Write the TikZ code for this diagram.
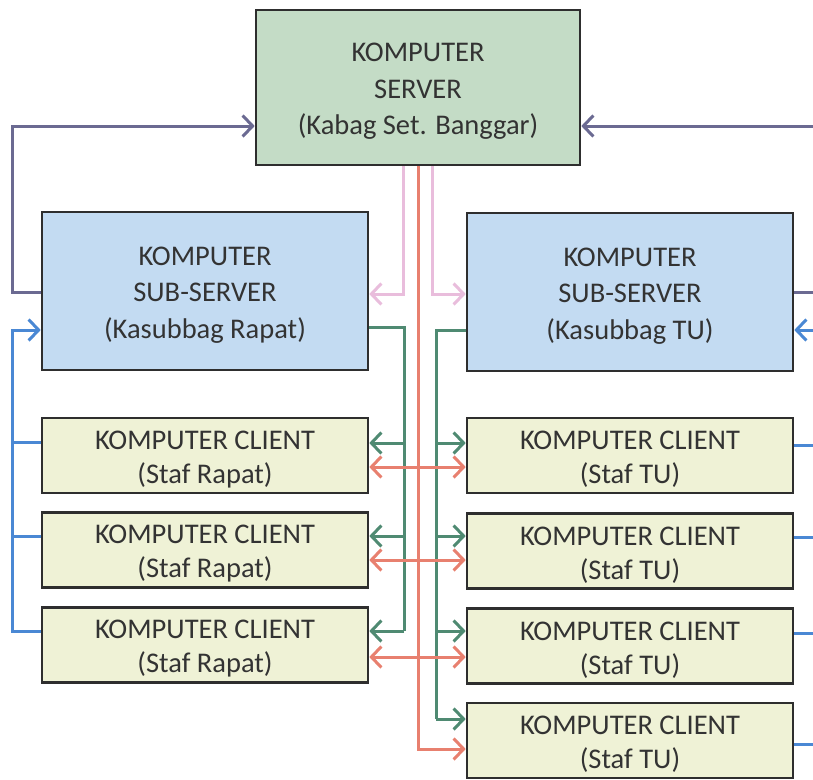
\documentclass[tikz,border=0pt]{standalone}
\usepackage{fontspec}
\setmainfont{Carlito}
\usetikzlibrary{arrows.meta}

\definecolor{srvfill}{HTML}{C4DCC6}
\definecolor{subfill}{HTML}{C3DBF2}
\definecolor{clifill}{HTML}{EFF2D6}
\definecolor{edgecol}{HTML}{2E2E2E}
\definecolor{txtcol}{HTML}{333333}
\definecolor{purcol}{HTML}{6B6A92}
\definecolor{pinkcol}{HTML}{E9BDDC}
\definecolor{redcol}{HTML}{E8806F}
\definecolor{grncol}{HTML}{4F8A72}
\definecolor{blucol}{HTML}{4A88D4}

\tikzset{
  unitbox/.style={draw=edgecol, line width=2.6pt, inner sep=0pt},
  bigtext/.style={align=center, inner sep=0pt, text=txtcol, yshift=-4pt,
    font=\fontsize{28.5}{36.5}\selectfont},
  smalltext/.style={bigtext, font=\fontsize{28.5}{34}\selectfont},
  srvbox/.style={unitbox, fill=srvfill, minimum width=324pt, minimum height=155pt},
  subbox/.style={unitbox, fill=subfill, minimum width=326pt, minimum height=158pt},
  clibox/.style={unitbox, fill=clifill, minimum width=326pt, minimum height=75pt},
  link/.style={line width=3pt},
  tip/.style={-{Straight Barb[length=10pt,width=21pt]}},
  twotip/.style={{Straight Barb[length=10pt,width=21pt]}-{Straight Barb[length=10pt,width=21pt]}},
  purline/.style={link, draw=purcol},
  pinkline/.style={link, draw=pinkcol},
  redline/.style={link, draw=redcol},
  grnline/.style={link, draw=grncol},
  bluline/.style={link, draw=blucol},
}

\begin{document}
\begin{tikzpicture}[x=1pt, y=-1pt]
\useasboundingbox (0,0) rectangle (813,779);
\fill[white] (0,0) rectangle (813,779);

% ---- units ----
\node[srvbox, label={[bigtext]center:{KOMPUTER\\SERVER\\(Kabag Set. Banggar)}}] (server) at (418,87.5) {};
\node[subbox, label={[bigtext]center:{KOMPUTER\\SUB-SERVER\\(Kasubbag Rapat)}}] (lsub) at (205,291) {};
\node[subbox, label={[bigtext]center:{KOMPUTER\\SUB-SERVER\\(Kasubbag TU)}}] (rsub) at (630,292) {};

\node[clibox, label={[smalltext]center:{KOMPUTER CLIENT\\(Staf Rapat)}}] (lc1) at (205,455.5) {};
\node[clibox, label={[smalltext]center:{KOMPUTER CLIENT\\(Staf Rapat)}}] (lc2) at (205,550) {};
\node[clibox, label={[smalltext]center:{KOMPUTER CLIENT\\(Staf Rapat)}}] (lc3) at (205,645) {};

\node[clibox, label={[smalltext]center:{KOMPUTER CLIENT\\(Staf TU)}}] (rc1) at (630,455.5) {};
\node[clibox, label={[smalltext]center:{KOMPUTER CLIENT\\(Staf TU)}}] (rc2) at (630,551) {};
\node[clibox, label={[smalltext]center:{KOMPUTER CLIENT\\(Staf TU)}}] (rc3) at (630,646) {};
\node[clibox, label={[smalltext]center:{KOMPUTER CLIENT\\(Staf TU)}}] (rc4) at (630,740.5) {};

% ---- bus columns ----
\coordinate (xL) at (12,0);
\coordinate (xR) at (824,0);
\coordinate (xPkL) at (403,0);
\coordinate (xRed) at (418,0);
\coordinate (xPkR) at (432,0);
\coordinate (xGL) at (404,0);
\coordinate (xGR) at (436,0);

% ---- levels ----
\coordinate (yTop) at (0,126);
\coordinate (yPur) at (0,292);
\coordinate (yPink) at (0,294);
\coordinate (yIn) at (0,330);
\coordinate (yGL) at (0,327);
\coordinate (yGR) at (0,330);
\coordinate (g1) at (0,443);
\coordinate (g2) at (0,536);
\coordinate (g3) at (0,631);
\coordinate (g4) at (0,719);
\coordinate (r1) at (0,467);
\coordinate (r2) at (0,560);
\coordinate (r3) at (0,657);
\coordinate (r4) at (0,749);
\coordinate (bl1) at (0,442);
\coordinate (bl2) at (0,536);
\coordinate (bl3) at (0,631);
\coordinate (br1) at (0,445);
\coordinate (br2) at (0,537);
\coordinate (br3) at (0,633);
\coordinate (br4) at (0,744);

% ---- sub-servers report to the server ----
\draw[purline,tip] (lsub.west |- yPur) -- (xL |- yPur) -- (xL |- yTop) -- (server.west |- yTop);
\draw[purline,tip] (rsub.east |- yPur) -- (xR |- yPur) -- (xR |- yTop) -- (server.east |- yTop);

% ---- server feeds the sub-servers ----
\draw[pinkline,tip] (server.south -| xPkL) -- (xPkL |- yPink) -- (lsub.east |- yPink);
\draw[pinkline,tip] (server.south -| xPkR) -- (xPkR |- yPink) -- (rsub.west |- yPink);

% ---- sub-servers feed their clients ----
\draw[grnline] (lsub.east |- yGL) -- (xGL |- yGL) -- (xGL |- g3);
\draw[grnline,tip] (xGL |- g1) -- (lc1.east |- g1);
\draw[grnline,tip] (xGL |- g2) -- (lc2.east |- g2);
\draw[grnline,tip] (xGL |- g3) -- (lc3.east |- g3);

\draw[grnline] (rsub.west |- yGR) -- (xGR |- yGR) -- (xGR |- g4);
\draw[grnline,tip] (xGR |- g1) -- (rc1.west |- g1);
\draw[grnline,tip] (xGR |- g2) -- (rc2.west |- g2);
\draw[grnline,tip] (xGR |- g3) -- (rc3.west |- g3);
\draw[grnline,tip] (xGR |- g4) -- (rc4.west |- g4);

% ---- server line and client exchange ----
\draw[redline,tip] (server.south -| xRed) -- (xRed |- r4) -- (rc4.west |- r4);
\draw[redline,twotip] (lc1.east |- r1) -- (rc1.west |- r1);
\draw[redline,twotip] (lc2.east |- r2) -- (rc2.west |- r2);
\draw[redline,twotip] (lc3.east |- r3) -- (rc3.west |- r3);

% ---- clients report to their sub-server ----
\draw[bluline,tip] (lc3.west |- bl3) -- (xL |- bl3) -- (xL |- yIn) -- (lsub.west |- yIn);
\draw[bluline] (lc1.west |- bl1) -- (xL |- bl1);
\draw[bluline] (lc2.west |- bl2) -- (xL |- bl2);

\draw[bluline,tip] (rc4.east |- br4) -- (xR |- br4) -- (xR |- yIn) -- (rsub.east |- yIn);
\draw[bluline] (rc1.east |- br1) -- (xR |- br1);
\draw[bluline] (rc2.east |- br2) -- (xR |- br2);
\draw[bluline] (rc3.east |- br3) -- (xR |- br3);
\end{tikzpicture}
\end{document}
